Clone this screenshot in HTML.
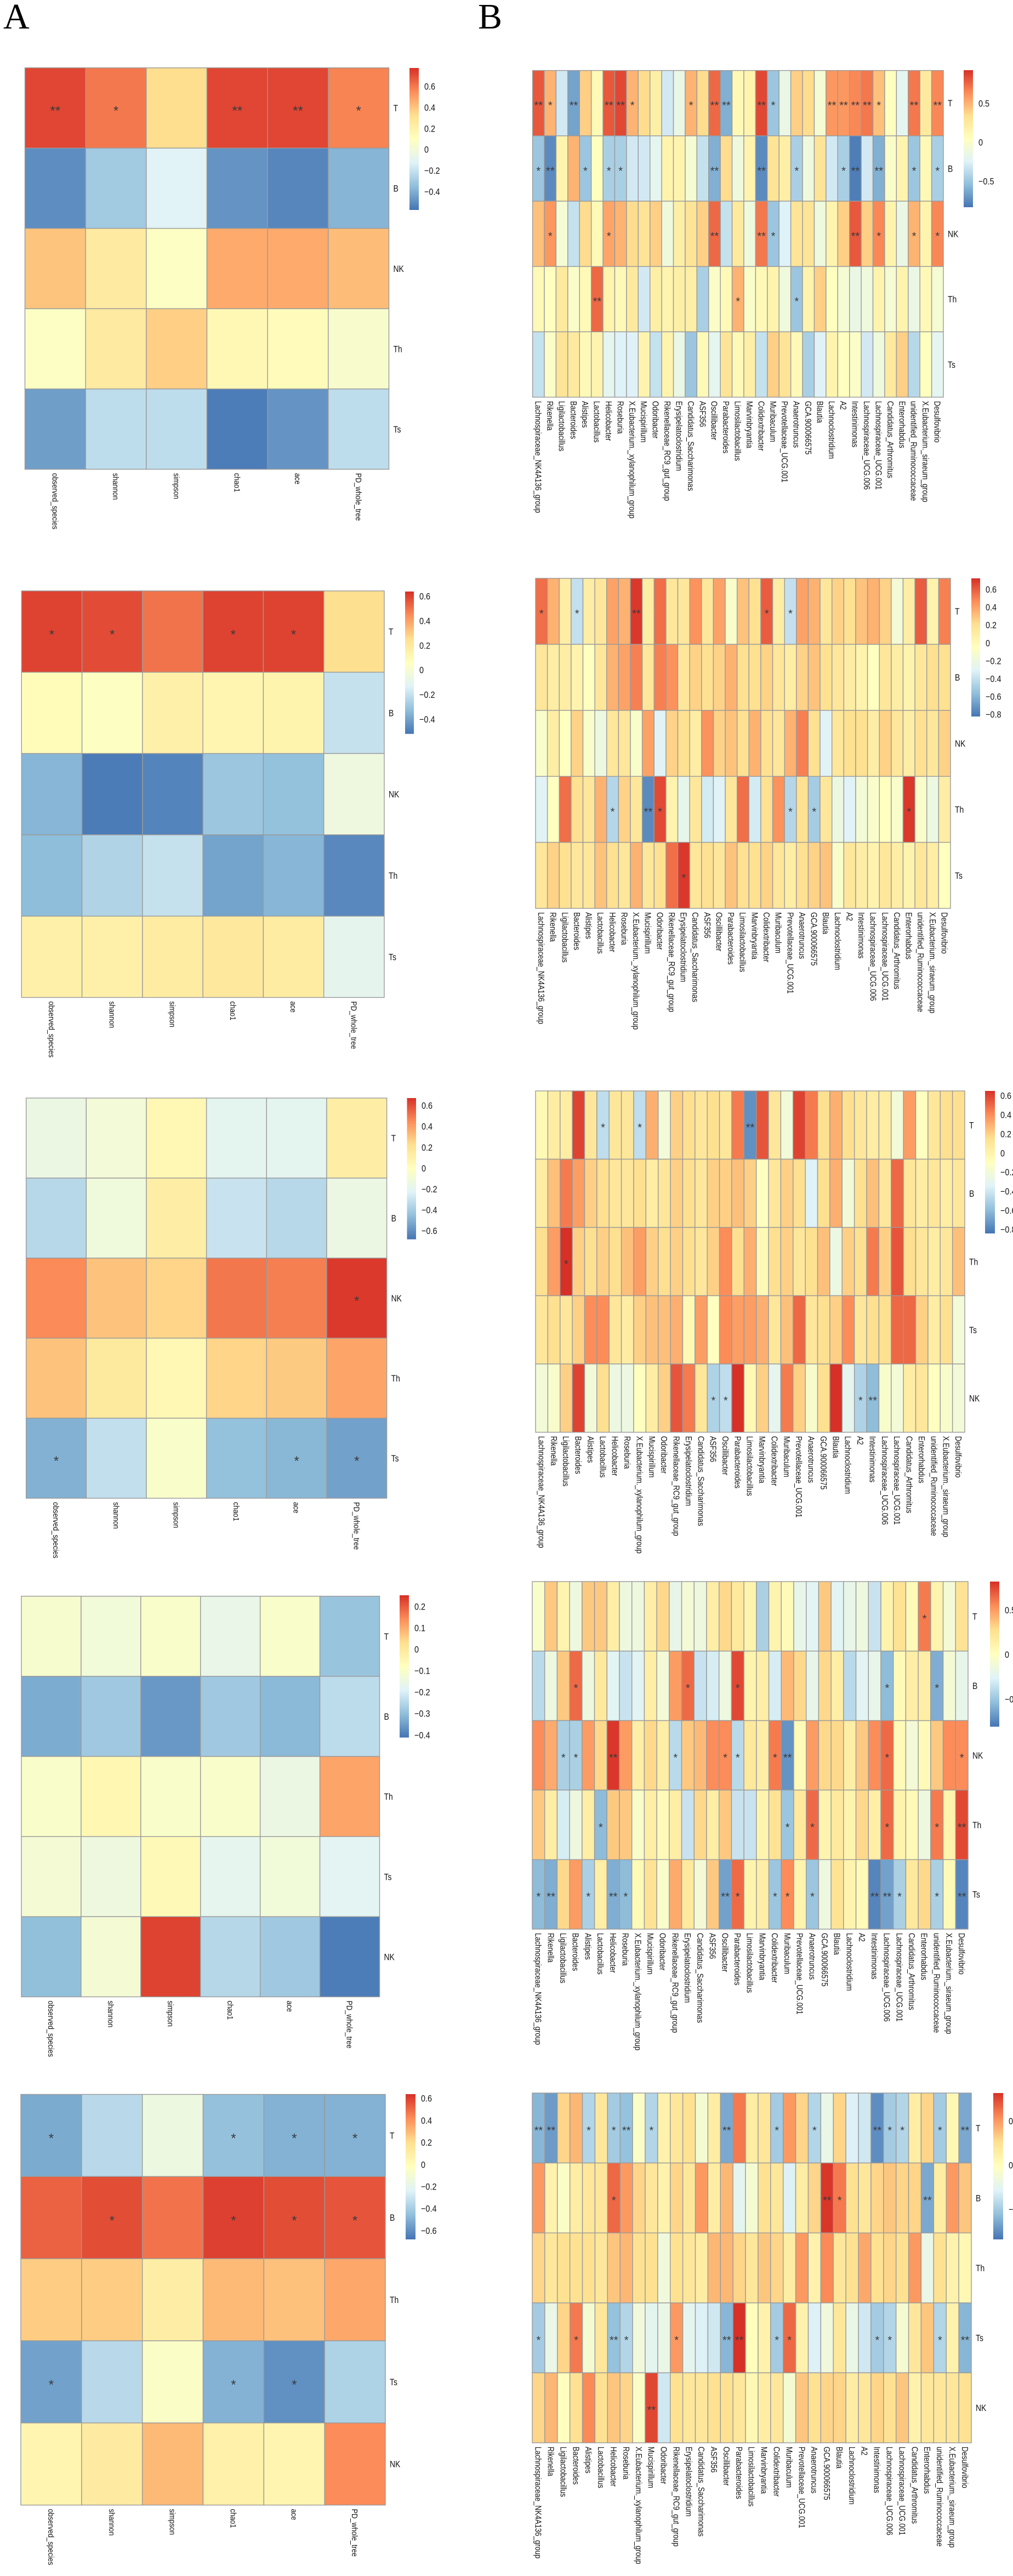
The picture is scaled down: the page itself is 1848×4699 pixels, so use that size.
<!DOCTYPE html>
<html><head><meta charset="utf-8"><title>Correlation heatmaps</title>
<style>
html,body{margin:0;padding:0;background:#fff;}
svg{display:block;font-family:"Liberation Sans",Arial,sans-serif;}
</style></head>
<body>
<svg id="fig" width="1848" height="4699" viewBox="0 0 1848 4699" xmlns="http://www.w3.org/2000/svg">
<text x="6" y="52" font-family="Liberation Serif,serif" font-size="66">A</text>
<text x="872" y="52" font-family="Liberation Serif,serif" font-size="66">B</text>
</svg>
<script>
// ---------- data ----------
const alphaCols = ["observed_species","shannon","simpson","chao1","ace","PD_whole_tree"];
const genusCols = ["Lachnospiraceae_NK4A136_group","Rikenella","Ligilactobacillus","Bacteroides","Alistipes","Lactobacillus","Helicobacter","Roseburia","X.Eubacterium._xylanophilum_group","Mucispirillum","Odoribacter","Rikenellaceae_RC9_gut_group","Erysipelatoclostridium","Candidatus_Saccharimonas","ASF356","Oscillibacter","Parabacteroides","Limosilactobacillus","Marvinbryantia","Colidextribacter","Muribaculum","Prevotellaceae_UCG.001","Anaerotruncus","GCA.900066575","Blautia","Lachnoclostridium","A2","Intestinimonas","Lachnospiraceae_UCG.006","Lachnospiraceae_UCG.001","Candidatus_Arthromitus","Enterorhabdus","unidentified_Ruminococcaceae","X.Eubacterium._siraeum_group","Desulfovibrio"];

const rowsA1 = ["T","B","NK","Th","Ts"];
const valsA1 = [
 [0.72,0.6,0.33,0.72,0.72,0.57],
 [-0.5,-0.3,-0.12,-0.48,-0.52,-0.38],
 [0.4,0.25,0.08,0.47,0.47,0.42],
 [0.08,0.25,0.37,0.15,0.12,0.05],
 [-0.45,-0.22,-0.22,-0.55,-0.48,-0.22]];
const sigA1 = ["210221","000000","000000","000000","000000"];
const ticksA1 = [0.6,0.4,0.2,0,-0.2,-0.4];

const rowsA2 = ["T","B","NK","Th","Ts"];
const valsA2 = [
 [0.6,0.58,0.5,0.6,0.6,0.25],
 [0.08,0.05,0.15,0.12,0.13,-0.2],
 [-0.35,-0.5,-0.48,-0.3,-0.32,-0.05],
 [-0.33,-0.25,-0.2,-0.4,-0.35,-0.47],
 [0.15,0.15,0.18,0.2,0.18,-0.1]];
const sigA2 = ["110110","000000","000000","000000","000000"];
const ticksA2 = [0.6,0.4,0.2,0,-0.2,-0.4];

const rowsA3 = ["T","B","NK","Th","Ts"];
const valsA3 = [
 [-0.15,-0.1,0.05,-0.2,-0.2,0.12],
 [-0.35,-0.12,0.12,-0.3,-0.35,-0.15],
 [0.45,0.3,0.25,0.5,0.48,0.65],
 [0.3,0.15,0.05,0.25,0.28,0.38],
 [-0.5,-0.32,-0.05,-0.45,-0.48,-0.55]];
const sigA3 = ["000000","000000","000001","000000","100011"];
const ticksA3 = [0.6,0.4,0.2,0,-0.2,-0.4,-0.6];

const rowsA4 = ["T","B","Th","Ts","NK"];
const valsA4 = [
 [-0.11,-0.13,-0.1,-0.16,-0.1,-0.29],
 [-0.33,-0.28,-0.36,-0.28,-0.31,-0.24],
 [-0.1,-0.05,-0.1,-0.1,-0.15,0.11],
 [-0.12,-0.14,-0.06,-0.17,-0.13,-0.18],
 [-0.3,-0.12,0.23,-0.25,-0.28,-0.4]];
const sigA4 = ["000000","000000","000000","000000","000000"];
const ticksA4 = [0.2,0.1,0,-0.1,-0.2,-0.3,-0.4];

const rowsA5 = ["T","B","Th","Ts","NK"];
const valsA5 = [
 [-0.52,-0.35,-0.15,-0.45,-0.5,-0.5],
 [0.52,0.57,0.48,0.6,0.57,0.55],
 [0.25,0.25,0.1,0.3,0.28,0.35],
 [-0.55,-0.35,-0.05,-0.5,-0.6,-0.38],
 [0.05,0.12,0.3,0.08,0.05,0.42]];
const sigA5 = ["100111","010111","000000","100110","000000"];
const ticksA5 = [0.6,0.4,0.2,0,-0.2,-0.4,-0.6];

const rowsB1 = ["T","B","NK","Th","Ts"];
const valsB1 = [
 [0.8,0.5,-0.3,-0.65,0.4,0.1,0.8,0.85,0.5,0.35,0.2,-0.3,-0.15,0.5,0.35,0.75,-0.6,0.1,0.15,0.85,-0.5,-0.15,0.4,0.35,-0.05,0.6,0.6,0.65,0.7,0.45,0.05,-0.2,0.7,0.25,0.65],
 [-0.5,-0.75,0.15,0.5,-0.5,0.05,-0.45,-0.45,-0.3,-0.3,-0.2,0.15,0.15,-0.05,-0.35,-0.6,0.35,-0.1,0.15,-0.75,0.3,0.2,-0.45,-0.1,0.3,-0.3,-0.45,-0.8,-0.3,-0.6,0,0.15,-0.5,0.1,-0.45],
 [0.45,0.6,-0.05,-0.35,0.35,0.1,0.55,0.5,0.35,0.3,0.4,-0.1,0.2,0.3,0.4,0.75,-0.35,0.25,-0.1,0.7,-0.5,-0.25,0.3,0.3,-0.1,0.15,0.4,0.8,0.4,0.65,0.15,-0.15,0.5,0.15,0.65],
 [0.1,0.05,0.25,0,0.1,0.75,0.15,0.1,0.25,-0.3,0.2,0.15,0.2,0.2,-0.45,0,0.1,0.5,0,0.1,0.15,-0.1,-0.5,0.15,0.4,0.05,-0.05,-0.15,-0.1,0.15,-0.05,0.15,-0.15,0.1,-0.05],
 [-0.35,0,0.3,0.25,0.1,0.15,-0.2,-0.25,-0.25,0.15,-0.35,0.15,-0.15,-0.5,0.1,-0.2,0.3,0.1,0.2,-0.35,0.4,0.3,0.1,-0.45,-0.25,0.15,0.05,0,-0.3,-0.1,0.25,0.4,-0.4,0.05,-0.2]];
const sigB1 = [
 "21020"+"02210"+"00010"+"22002"+"10000"+"22221"+"00202",
 "12001"+"01100"+"00000"+"20002"+"00100"+"01202"+"00101",
 "01000"+"01000"+"00000"+"20002"+"10000"+"00201"+"00101",
 "00000"+"20000"+"00000"+"00100"+"00100"+"00000"+"00000",
 "00000"+"00000"+"00000"+"00000"+"00000"+"00000"+"00000"];
const ticksB1 = [0.5,0,-0.5];

const rowsB2 = ["T","B","NK","Th","Ts"];
const valsB2 = [
 [0.55,0.35,0.1,-0.4,0.1,0.15,0.4,0.35,0.7,0.1,0.55,0.15,0.15,0.45,0.15,0.4,-0.1,0.3,0.2,0.6,0.1,-0.4,0.4,0.35,0.15,0.25,0.2,0.3,0.35,0.25,-0.15,0.1,0.6,0.05,0.5],
 [0.15,0.1,0.1,0.05,-0.05,0.15,0.35,0.4,0.5,0.15,0.5,0.45,0.15,0.25,0.2,0.25,0.35,0.2,0.2,0.25,0.15,0.1,0.25,0.3,0.2,0.15,0.1,0.05,-0.05,0.15,0.1,0.05,0.15,0.2,0.2],
 [-0.1,0.1,-0.05,0.25,-0.1,-0.2,0.15,0.15,-0.1,0.4,-0.3,0.25,0.2,0.1,0.45,0.25,0.3,0.2,0.35,0.2,0.15,0.35,0.5,0.2,-0.3,0.15,0.2,0.2,0.1,0.25,0.15,0.1,0.2,0.15,0.25],
 [-0.3,-0.05,0.55,0.2,0.15,0.35,-0.45,0.25,0.15,-0.75,0.65,0.05,-0.25,0.15,-0.35,-0.3,0.15,0.55,-0.35,0.2,0.45,-0.45,0.2,-0.5,0.15,-0.2,-0.3,-0.15,-0.1,-0.05,-0.1,0.7,-0.1,-0.2,0.1],
 [0.15,0.25,0.2,0.15,0.15,0.3,0.2,0.15,0.35,0.15,0.2,0.55,0.7,0.15,0.2,0.15,0.3,0.2,0.2,0.25,0.15,0.1,0.2,0.25,0.3,-0.1,0.15,0.1,0.05,0.15,0.1,0.05,0.15,0.1,-0.05]];
const sigB2 = [
 "10010"+"00020"+"00000"+"00001"+"01000"+"00000"+"00000",
 "00000"+"00000"+"00000"+"00000"+"00000"+"00000"+"00000",
 "00000"+"00000"+"00000"+"00000"+"00000"+"00000"+"00000",
 "00000"+"01002"+"10000"+"00000"+"01010"+"00000"+"01000",
 "00000"+"00000"+"00100"+"00000"+"00000"+"00000"+"00000"];
const ticksB2 = [0.6,0.4,0.2,0,-0.2,-0.4,-0.6,-0.8];

const rowsB3 = ["T","B","Th","Ts","NK"];
const valsB3 = [
 [-0.05,0.05,0.05,0.6,0.1,-0.45,0.1,0.1,-0.45,0.3,-0.2,0.2,0.15,0.1,0.15,0.1,0.45,-0.75,0.55,0.1,-0.2,0.6,0.45,0.15,0.3,0.15,0.1,0.05,0.05,-0.2,0.35,-0.1,0.1,0.15,0.15],
 [0.05,0.25,0.45,0.35,0.2,0.15,0.1,0.1,0.15,0.05,0.1,0.2,0.15,0.1,0.2,0.2,0.25,0.2,-0.1,0.1,0.2,0.15,-0.35,0.15,0.3,-0.2,0.15,0.25,0.1,0.5,0.1,0.05,0.1,0.05,0.1],
 [0.15,0.35,0.65,0.2,0.15,0.2,0.15,0.25,0.35,0.2,0.15,0.2,0.15,0.1,0.2,0.4,0.15,0.3,-0.05,0.15,0.2,0.1,0.15,0.25,-0.25,0.2,0.15,0.45,0.2,0.55,0.15,0.1,0.05,0.1,0.25],
 [0.1,0.15,0.1,0.2,0.4,0.4,0.1,0.05,0.2,0.25,0.25,0.3,-0.05,0.35,-0.1,0.4,0.35,0.35,0.3,0.1,0.25,0.5,0.1,0.15,0.2,0.4,0.1,0.15,0.15,0.5,0.5,0.2,0.05,0.15,-0.2],
 [-0.2,-0.15,0.2,0.6,-0.2,0.15,-0.25,-0.25,-0.1,0.05,0.2,0.55,0.45,0.1,-0.5,-0.45,0.65,-0.05,0.2,-0.3,0.45,0.2,-0.15,0.15,0.65,-0.3,-0.5,-0.6,-0.15,-0.2,0.05,0.1,-0.1,-0.15,-0.2]];
const sigB3 = [
 "00000"+"10010"+"00000"+"00200"+"00000"+"00000"+"00000",
 "00000"+"00000"+"00000"+"00000"+"00000"+"00000"+"00000",
 "00100"+"00000"+"00000"+"00000"+"00000"+"00000"+"00000",
 "00000"+"00000"+"00000"+"00000"+"00000"+"00000"+"00000",
 "00000"+"00000"+"00001"+"10000"+"00000"+"01200"+"00000"];
const ticksB3 = [0.6,0.4,0.2,0,-0.2,-0.4,-0.6,-0.8];

const rowsB4 = ["T","B","NK","Th","Ts"];
const valsB4 = [
 [-0.05,0.35,0.1,-0.15,0.35,0.35,0.15,-0.15,-0.15,0.15,0.3,-0.2,-0.1,-0.15,0.15,0.3,0.2,0.1,-0.45,0.1,0.05,-0.2,-0.25,0.35,-0.25,-0.2,-0.15,-0.35,0.1,0.25,0.05,0.6,0.1,-0.1,0.25],
 [-0.4,-0.15,0.35,0.65,-0.15,0.2,-0.25,-0.35,-0.25,0.15,-0.1,0.5,0.65,-0.35,-0.3,-0.15,0.75,0.1,0.15,-0.3,0.4,0.3,-0.2,0.3,0.15,-0.4,-0.25,-0.2,-0.55,0.05,0.15,0.15,-0.6,-0.1,-0.2],
 [0.55,0.45,-0.45,-0.45,0.5,0.3,0.8,0.5,0.15,0.3,0.15,-0.4,0.35,0.4,0.55,0.55,-0.4,0.2,0.15,0.6,-0.7,0.05,0.5,0.3,0.3,0.15,0.35,0.55,0.65,0.05,-0.1,0.05,0.35,0.55,0.55],
 [0.35,0.15,-0.3,-0.15,0.15,-0.55,0.35,0.35,-0.05,0.15,0.05,0.15,-0.35,0.3,0.15,0.35,-0.35,-0.35,0.1,0.25,-0.5,0.2,0.65,0.1,0.2,0.1,0.3,0.15,0.65,0.1,0.05,-0.15,0.6,0.1,0.75],
 [-0.55,-0.6,0.3,0.5,-0.45,0.15,-0.6,-0.55,0.05,0.25,-0.05,0.45,0.2,-0.1,0.35,-0.65,0.65,0.1,0.15,-0.5,0.55,0.1,-0.5,-0.15,0.25,0.1,0.05,-0.75,-0.65,-0.45,0.2,0.3,-0.45,0.05,-0.75]];
const sigB4 = [
 "00000"+"00000"+"00000"+"00000"+"00000"+"00000"+"01000",
 "00010"+"00000"+"00100"+"01000"+"00000"+"00010"+"00100",
 "00110"+"02000"+"01000"+"11001"+"20000"+"00010"+"00001",
 "00000"+"10000"+"00000"+"00000"+"10100"+"00010"+"00102",
 "12001"+"02100"+"00000"+"21001"+"10100"+"00221"+"00102"];
const ticksB4 = [0.5,0,-0.5];

const rowsB5 = ["T","B","Th","Ts","NK"];
const valsB5 = [
 [-0.6,-0.7,0.3,0.4,-0.45,0.2,-0.5,-0.55,-0.05,-0.45,0.1,0.2,0.25,-0.1,0.15,-0.65,0.6,0.15,0.2,-0.5,0.5,0.3,-0.45,-0.2,0.3,-0.3,-0.35,-0.75,-0.5,-0.45,0.15,0.3,-0.5,0.05,-0.65],
 [0.5,0.1,-0.05,0.15,0.2,0.2,0.65,0.5,0.3,0.2,0.1,0.3,0.2,0.5,0.15,0.4,-0.25,-0.1,0.25,0.2,-0.3,0.15,0.3,0.8,0.6,0.25,0.2,0.3,0.35,0.3,0.3,-0.65,0.15,0.5,0.35],
 [0.3,0.2,0.25,0.25,0.25,0.2,0.35,0.4,0.25,0.25,-0.15,0.25,0.2,0.15,0.4,0.4,0.3,0.2,0.35,0.3,0.15,0.5,0.1,0.55,0.2,0.25,0.45,0.25,0.3,0.25,0.5,-0.2,0.25,0.1,0.05],
 [-0.5,-0.2,0.3,0.6,-0.1,0.2,-0.55,-0.45,-0.15,-0.25,-0.2,0.5,-0.25,-0.3,-0.35,-0.6,0.85,0,0.1,-0.5,0.65,0.1,-0.3,-0.15,0.2,-0.2,-0.35,-0.5,-0.45,-0.1,0.2,0.35,-0.45,0.1,-0.6],
 [0.3,0.4,0,0.25,0.55,0.25,0.35,0.3,-0.05,0.75,-0.35,0.25,0.2,0.2,0.25,0.25,0.2,0.05,0.15,0.2,-0.1,0.35,0.25,0.3,0.3,0.15,0.2,0.3,0.25,0.35,0.1,0.2,0.2,0.2,0.25]];
const sigB5 = [
 "22001"+"01201"+"00000"+"20001"+"00100"+"00211"+"00102",
 "00000"+"01000"+"00000"+"00000"+"00021"+"00000"+"02000",
 "00000"+"00000"+"00000"+"00000"+"00000"+"00000"+"00000",
 "10010"+"02100"+"01000"+"22001"+"10000"+"00110"+"00102",
 "00000"+"00002"+"00000"+"00000"+"00000"+"00000"+"00000"];
const ticksB5 = [0.5,0,-0.5];

// ---------- layout (geometry only) ----------
const panels = [
 {id:"a1",cols:alphaCols,rows:rowsA1,vals:valsA1,sig:sigA1,ticks:ticksA1,dom:[-0.573,0.773],x0:45.5,x1:709.5,y0:123.7,y1:856,lx:747,lw:17,ly0:124,ly1:383,kind:"a"},
 {id:"a2",cols:alphaCols,rows:rowsA2,vals:valsA2,sig:sigA2,ticks:ticksA2,dom:[-0.519,0.638],x0:39.3,x1:701,y0:1077.9,y1:1819.5,lx:739,lw:16,ly0:1079,ly1:1338.7,kind:"a"},
 {id:"a3",cols:alphaCols,rows:rowsA3,vals:valsA3,sig:sigA3,ticks:ticksA3,dom:[-0.683,0.672],x0:47.7,x1:705.6,y0:2003,y1:2733,lx:742.5,lw:16.5,ly0:2003,ly1:2260.7,kind:"a"},
 {id:"a4",cols:alphaCols,rows:rowsA4,vals:valsA4,sig:sigA4,ticks:ticksA4,dom:[-0.412,0.252],x0:39,x1:692.5,y0:2911.7,y1:3642.5,lx:729,lw:17,ly0:2910,ly1:3169.5,kind:"a"},
 {id:"a5",cols:alphaCols,rows:rowsA5,vals:valsA5,sig:sigA5,ticks:ticksA5,dom:[-0.68,0.638],x0:38,x1:703,y0:3820.5,y1:4569.6,lx:740,lw:18,ly0:3820,ly1:4085,kind:"a"},
 {id:"b1",cols:genusCols,rows:rowsB1,vals:valsB1,sig:sigB1,ticks:ticksB1,dom:[-0.833,0.927],x0:971.6,x1:1721,y0:128.6,y1:724.5,lx:1758,lw:17,ly0:128,ly1:378,kind:"b"},
 {id:"b2",cols:genusCols,rows:rowsB2,vals:valsB2,sig:sigB2,ticks:ticksB2,dom:[-0.823,0.722],x0:977,x1:1734,y0:1055,y1:1657,lx:1772,lw:16,ly0:1055,ly1:1307,kind:"b"},
 {id:"b3",cols:genusCols,rows:rowsB3,vals:valsB3,sig:sigB3,ticks:ticksB3,dom:[-0.842,0.65],x0:977,x1:1760,y0:1990,y1:2612.6,lx:1797,lw:18,ly0:1990,ly1:2250,kind:"b"},
 {id:"b4",cols:genusCols,rows:rowsB4,vals:valsB4,sig:sigB4,ticks:ticksB4,dom:[-0.81,0.819],x0:971,x1:1766,y0:2885,y1:3519,lx:1806,lw:17,ly0:2885,ly1:3149.7,kind:"b"},
 {id:"b5",cols:genusCols,rows:rowsB5,vals:valsB5,sig:sigB5,ticks:ticksB5,dom:[-0.842,0.817],x0:971,x1:1772,y0:3818,y1:4456,lx:1812,lw:18,ly0:3818,ly1:4085,kind:"b"}
];

const PAL = ["#4575B4","#91BFDB","#E0F3F8","#FFFFBF","#FEE090","#FC8D59","#D73027"];
const NS = "http://www.w3.org/2000/svg";
const svg = document.getElementById("fig");
function hex(c){return [parseInt(c.slice(1,3),16),parseInt(c.slice(3,5),16),parseInt(c.slice(5,7),16)];}
function colorOf(v,lo,hi){
  let t=(v-lo)/(hi-lo); t=Math.max(0,Math.min(1,t));
  const p=t*6; const i=Math.min(5,Math.floor(p)); const f=p-i;
  const a=hex(PAL[i]), b=hex(PAL[i+1]);
  return "rgb("+a.map((x,k)=>Math.round(x+(b[k]-x)*f)).join(",")+")";
}
function el(tag,attrs,parent){const e=document.createElementNS(NS,tag);for(const k in attrs)e.setAttribute(k,attrs[k]);(parent||svg).appendChild(e);return e;}
function fmt(t){return t<0?"\u2212"+Math.abs(t):String(t);}

// shared gradient
const defs=el("defs",{});
const grad=el("linearGradient",{id:"lg",x1:"0",y1:"1",x2:"0",y2:"0"},defs);
PAL.forEach((c,i)=>el("stop",{offset:(i/6).toFixed(3),"stop-color":c},grad));

panels.forEach(P=>{
  const g=el("g",{});
  
  
  const nc=P.cols.length, nr=P.rows.length;
  const cw=(P.x1-P.x0)/nc, rh=(P.y1-P.y0)/nr;
  const xOf=j=>P.x0+j*cw, yOf=i=>P.y0+i*rh;
  const isA=P.kind==="a";
  const starSize=isA?24:20;
  for(let i=0;i<nr;i++){
    for(let j=0;j<nc;j++){
      const r=el("rect",{x:xOf(j),y:yOf(i),width:cw,height:rh,fill:colorOf(P.vals[i][j],P.dom[0],P.dom[1]),stroke:"#9a9a9a","stroke-width":1.4},g);
      
      
      const s=+P.sig[i][j];
      if(s>0){
        const t=el("text",{x:xOf(j)+cw/2,y:yOf(i)+rh/2+starSize*0.55,"text-anchor":"middle","font-size":starSize,fill:"#3a3a3a"},g);
        t.textContent=s===2?"**":"*";
        
        
      }
    }
    const rl=el("text",{transform:"translate("+(P.x1+8)+","+(yOf(i)+rh/2+6)+") scale(0.82,1)","font-size":17,fill:"#111"},g);
    rl.textContent=P.rows[i];
    
    
  }
  const fs=isA?15:16, sc=isA?0.85:0.82;
  for(let j=0;j<nc;j++){
    const cx=xOf(j)+cw/2;
    const cl=el("text",{transform:"translate("+(cx-fs*0.36)+","+(P.y1+7)+") rotate(90) scale("+sc+",1)","font-size":fs,fill:"#111"},g);
    cl.textContent=P.cols[j];
    
    
  }
  // legend
  const lg=el("rect",{x:P.lx,y:P.ly0,width:P.lw,height:P.ly1-P.ly0,fill:"url(#lg)"},g);
  
  
  P.ticks.forEach(tv=>{
    const ty=P.ly0+(P.dom[1]-tv)/(P.dom[1]-P.dom[0])*(P.ly1-P.ly0);
    const tt=el("text",{transform:"translate("+(P.lx+P.lw+10)+","+(ty+6)+") scale(0.85,1)","font-size":17,fill:"#111"},g);
    tt.textContent=fmt(tv);
    
    
  });
});
</script>
</body></html>
